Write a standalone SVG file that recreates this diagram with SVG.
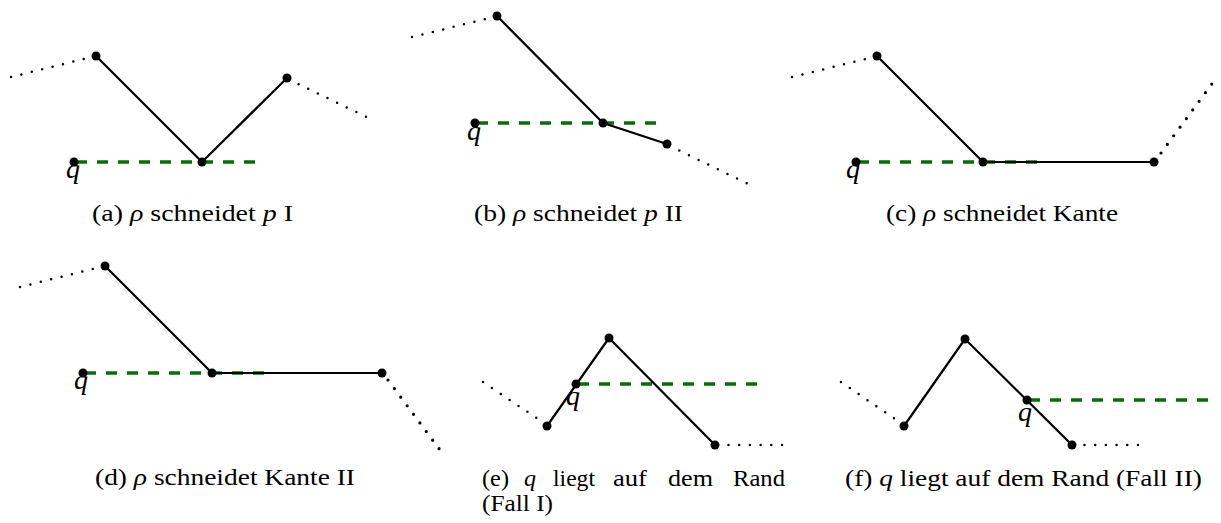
<svg xmlns="http://www.w3.org/2000/svg" width="1221" height="523" viewBox="0 0 1221 523">
<style>
.edge{stroke:#000;stroke-width:2.2;fill:none;stroke-linejoin:round}
.ray{stroke:#0a6b0a;stroke-width:3.3;fill:none;stroke-dasharray:11 10}
.dots{stroke:#000;stroke-width:2.5;fill:none;stroke-dasharray:0 10.7;stroke-linecap:round}
.dots2{stroke:#000;stroke-width:3.2;fill:none;stroke-dasharray:0 10.7;stroke-linecap:round}
.v{fill:#000}
.cap{font-family:"Liberation Serif","Times New Roman",serif;font-size:24px;fill:#000}
.lbl{font-family:"Liberation Serif","Times New Roman",serif;font-size:28px;font-style:italic;fill:#000;text-anchor:middle}
.it{font-style:italic}
</style>
<rect width="1221" height="523" fill="#fff"/>

<!-- (a) -->
<g id="panel-a">
  <g id="a-connectors">
    <path class="dots" d="M11,77 L92,57"/>
    <path class="dots" d="M366,116.7 L290,80"/>
    <path class="ray" d="M76,162 L255,162"/>
    <path class="edge" d="M96,56 L202,162 L287,78"/>
  </g>
  <g id="a-p1"><circle class="v" cx="96" cy="56" r="4.5"/></g>
  <g id="a-p2"><circle class="v" cx="202" cy="162" r="4.5"/></g>
  <g id="a-p3"><circle class="v" cx="287" cy="78" r="4.5"/></g>
  <g id="a-q"><circle class="v" cx="74" cy="162" r="4.5"/><text class="lbl" x="73" y="178">q</text></g>
  <text class="cap" x="92" y="221" textLength="201" lengthAdjust="spacingAndGlyphs">(a) <tspan class="it">ρ</tspan> schneidet <tspan class="it">p</tspan> I</text>
</g>

<!-- (b) -->
<g id="panel-b">
  <g id="b-connectors">
    <path class="dots" d="M412,37 L490,18"/>
    <path class="dots" d="M746.7,183.3 L672,147"/>
    <path class="ray" d="M477,123 L657,123"/>
    <path class="edge" d="M497,16 L603,123 L667,144"/>
  </g>
  <g id="b-p1"><circle class="v" cx="497" cy="16" r="4.5"/></g>
  <g id="b-p2"><circle class="v" cx="603" cy="123" r="4.5"/></g>
  <g id="b-p3"><circle class="v" cx="667" cy="144" r="4.5"/></g>
  <g id="b-q"><circle class="v" cx="475" cy="123" r="4.5"/><text class="lbl" x="474" y="140">q</text></g>
  <text class="cap" x="474" y="221" textLength="209" lengthAdjust="spacingAndGlyphs">(b) <tspan class="it">ρ</tspan> schneidet <tspan class="it">p</tspan> II</text>
</g>

<!-- (c) -->
<g id="panel-c">
  <g id="c-connectors">
    <path class="dots" d="M792,77 L870,58"/>
    <path class="dots2" d="M1161,153 L1217,77"/>
    <path class="ray" d="M858,162 L1037,162"/>
    <path class="edge" d="M877,56 L983,162 L1154,162"/>
  </g>
  <g id="c-p1"><circle class="v" cx="877" cy="56" r="4.5"/></g>
  <g id="c-p2"><circle class="v" cx="983" cy="162" r="4.5"/></g>
  <g id="c-p3"><circle class="v" cx="1154" cy="162" r="4.5"/></g>
  <g id="c-q"><circle class="v" cx="856" cy="162" r="4.5"/><text class="lbl" x="853" y="178">q</text></g>
  <text class="cap" x="886" y="221" textLength="232" lengthAdjust="spacingAndGlyphs">(c) <tspan class="it">ρ</tspan> schneidet Kante</text>
</g>

<!-- (d) -->
<g id="panel-d">
  <g id="d-connectors">
    <path class="dots" d="M20,287 L97,268"/>
    <path class="dots2" d="M388,380 L440,450"/>
    <path class="ray" d="M85,373 L265,373"/>
    <path class="edge" d="M105,266 L212,373 L382,373"/>
  </g>
  <g id="d-p1"><circle class="v" cx="105" cy="266" r="4.5"/></g>
  <g id="d-p2"><circle class="v" cx="212" cy="373" r="4.5"/></g>
  <g id="d-p3"><circle class="v" cx="382" cy="373" r="4.5"/></g>
  <g id="d-q"><circle class="v" cx="83" cy="373" r="4.5"/><text class="lbl" x="81" y="389">q</text></g>
  <text class="cap" x="95" y="485" textLength="260" lengthAdjust="spacingAndGlyphs">(d) <tspan class="it">ρ</tspan> schneidet Kante II</text>
</g>

<!-- (e) -->
<g id="panel-e">
  <g id="e-connectors">
    <path class="dots" d="M483,382 L538,419"/>
    <path class="dots" d="M782,445 L727,445"/>
    <path class="ray" d="M578,384 L757,384"/>
    <path class="edge" d="M547,426 L609,338 L715,445"/>
  </g>
  <g id="e-p1"><circle class="v" cx="547" cy="426" r="4.5"/></g>
  <g id="e-p2"><circle class="v" cx="609" cy="338" r="4.5"/></g>
  <g id="e-p3"><circle class="v" cx="715" cy="445" r="4.5"/></g>
  <g id="e-q"><circle class="v" cx="576" cy="384" r="4.5"/><text class="lbl" x="573" y="405">q</text></g>
  <g id="e-caption" class="cap">
    <text x="482" y="486" textLength="27" lengthAdjust="spacingAndGlyphs">(e)</text>
    <text class="it" x="524" y="486" textLength="12" lengthAdjust="spacingAndGlyphs">q</text>
    <text x="553" y="486" textLength="42" lengthAdjust="spacingAndGlyphs">liegt</text>
    <text x="613" y="486" textLength="34" lengthAdjust="spacingAndGlyphs">auf</text>
    <text x="668" y="486" textLength="45" lengthAdjust="spacingAndGlyphs">dem</text>
    <text x="733" y="486" textLength="52" lengthAdjust="spacingAndGlyphs">Rand</text>
    <text x="482" y="511" textLength="71" lengthAdjust="spacingAndGlyphs">(Fall I)</text>
  </g>
</g>

<!-- (f) -->
<g id="panel-f">
  <g id="f-connectors">
    <path class="dots" d="M841,382 L895,419"/>
    <path class="dots" d="M1138,445 L1083,445"/>
    <path class="ray" d="M1029,400 L1210,400"/>
    <path class="edge" d="M904,426 L965,339 L1072,445"/>
  </g>
  <g id="f-p1"><circle class="v" cx="904" cy="426" r="4.5"/></g>
  <g id="f-p2"><circle class="v" cx="965" cy="339" r="4.5"/></g>
  <g id="f-p3"><circle class="v" cx="1072" cy="445" r="4.5"/></g>
  <g id="f-q"><circle class="v" cx="1027" cy="400" r="4.5"/><text class="lbl" x="1025" y="421">q</text></g>
  <text class="cap" x="845" y="486" textLength="357" lengthAdjust="spacingAndGlyphs">(f) <tspan class="it">q</tspan> liegt auf dem Rand (Fall II)</text>
</g>
</svg>
